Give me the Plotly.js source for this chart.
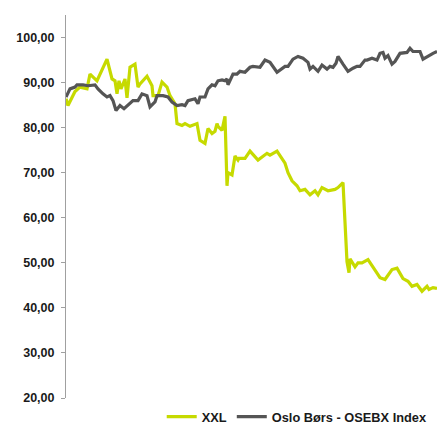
<!DOCTYPE html>
<html>
<head>
<meta charset="utf-8">
<script src="https://cdn.plot.ly/plotly-3.0.1.min.js"></script>
<style>html,body{margin:0;padding:0;background:#fff;}#chart{width:437px;height:432px;}</style>
</head>
<body>
<div id="chart"></div>
<script>
// Trading-day offsets and indexed values
const xxlDay = [0,2,9,14,21,24,31,41,46,49,51,53,55,59,61,64,69,72,74,81,86,87,92,96,101,104,109,111,116,119,124,131,134,139,142,146,149,151,152,156,159,161,162,166,169,172,173,179,184,192,201,204,211,219,222,226,231,234,239,244,249,252,256,262,269,272,277,281,283,284,289,292,296,302,312,314,319,326,331,334,337,342,346,351,356,361,363,367,371];
const xxlVal = [86.4,84.9,88.0,89.0,88.6,91.9,90.4,95.2,90.8,90.4,87.5,90.4,88.6,90.8,86.6,93.4,94.1,89.0,89.7,91.4,89.3,87.1,87.1,90.1,89.0,87.1,85.3,80.9,80.5,80.9,80.3,80.9,77.2,76.5,79.8,78.7,79.2,80.9,80.3,79.4,82.5,67.1,70.0,69.5,73.7,72.8,73.2,73.2,74.8,72.8,74.3,73.9,74.8,72.1,70.0,68.2,67.1,66.0,66.3,65.1,66.0,65.1,66.7,66.0,66.3,66.7,67.8,50.2,47.8,50.9,49.1,50.0,50.0,50.7,47.4,46.7,46.3,48.5,48.8,47.6,46.5,45.9,44.8,45.2,43.7,44.8,44.1,44.5,44.3];
const osebxDay = [0,4,9,11,17,22,29,32,37,41,44,47,50,54,58,62,67,72,76,81,84,89,91,97,102,106,111,116,119,122,129,132,134,139,142,146,149,152,156,159,161,162,167,171,174,179,184,187,194,199,204,211,214,219,222,227,232,237,242,244,247,252,256,261,264,267,270,272,277,282,287,291,294,299,301,306,311,314,317,319,322,326,329,334,341,344,347,354,357,361,367,371];
const osebxVal = [86.8,88.6,89.0,89.5,89.5,89.3,89.5,88.6,87.5,86.8,87.1,86.0,83.8,84.9,84.2,85.1,86.0,86.0,87.5,87.1,84.6,85.7,87.1,87.1,86.8,85.7,84.9,85.1,84.9,86.0,86.4,85.3,86.8,86.8,88.6,89.5,89.3,90.4,90.6,90.4,90.8,89.5,91.9,91.9,92.5,92.3,93.4,93.6,93.4,95.0,94.5,92.3,92.8,93.6,93.6,95.2,95.8,95.4,94.5,93.0,93.6,92.5,93.9,93.0,93.6,93.4,94.3,95.8,94.1,92.5,93.2,93.6,93.6,95.0,95.0,95.4,95.0,96.5,96.7,95.4,96.0,94.1,94.7,96.5,96.7,97.6,96.9,96.9,95.2,95.8,96.5,96.9,97.6];
const seriesNames = ["XXL", "Oslo Børs - OSEBX Index"];
const yTicks = [20,30,40,50,60,70,80,90,100];

const fontFam = '"Liberation Sans", Arial, sans-serif';
const traces = [
  {x: xxlDay, y: xxlVal, name: seriesNames[0], type: 'scatter', mode: 'lines',
   line: {color: '#c6da00', width: 3.2}},
  {x: osebxDay, y: osebxVal, name: seriesNames[1], type: 'scatter', mode: 'lines',
   line: {color: '#555555', width: 3.2}}
];
const layout = {
  width: 437, height: 432,
  margin: {l: 66, r: 0, t: 15, b: 29, pad: 0},
  paper_bgcolor: '#ffffff', plot_bgcolor: '#ffffff',
  separators: ',.',
  showlegend: true,
  font: {family: fontFam, size: 12, color: '#1a1a1a'},
  xaxis: {range: [0, 371], showticklabels: false, ticks: '', showgrid: false,
          zeroline: false, showline: false, fixedrange: true},
  yaxis: {range: [20, 105], tickvals: yTicks, tickformat: '.2f', showgrid: false,
          zeroline: false, showline: true, linecolor: '#a0a0a0', linewidth: 1,
          ticks: 'outside', ticklen: 4, tickcolor: '#a0a0a0', ticklabelstandoff: 4,
          tickfont: {family: fontFam, size: 12.5, color: '#1a1a1a', weight: 'bold'}},
  legend: {orientation: 'h', x: 0.258, xanchor: 'left', y: -0.049, yanchor: 'middle',
           font: {family: fontFam, size: 12.8, color: '#1a1a1a', weight: 'bold'},
           itemwidth: 30, tracegroupgap: 0, bgcolor: 'rgba(0,0,0,0)'}
};
Plotly.newPlot('chart', traces, layout, {staticPlot: true, displayModeBar: false});
</script>
</body>
</html>
